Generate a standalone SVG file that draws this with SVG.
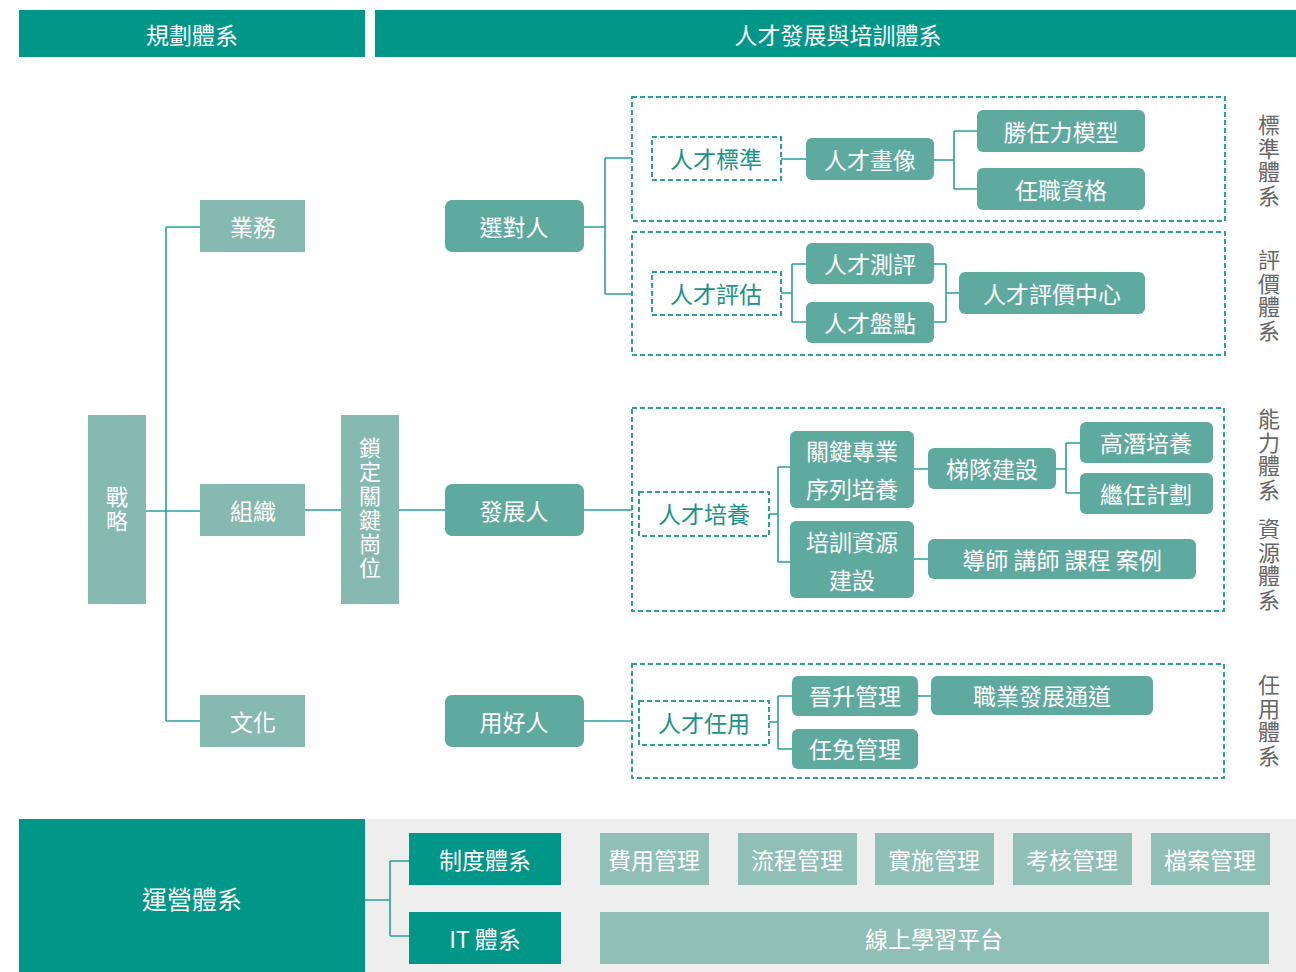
<svg xmlns="http://www.w3.org/2000/svg" width="1296" height="972" viewBox="0 0 1296 972">
<style>
text{font-family:"Noto Sans CJK TC","Noto Sans CJK SC",sans-serif;font-size:23px;text-anchor:middle;dominant-baseline:central}
.hdr{fill:#009688}
.ht{fill:#fff;font-size:23px}
.big{font-size:25px}
.lt{fill:#86B9B0}
.nd{fill:#5FAA9F}
.mg{fill:#8FBFB5}
.w{fill:#fff}
.dash{fill:none;stroke:#2AA198;stroke-width:2;stroke-dasharray:5 3}
.dt{fill:#1A9485}
.vt{writing-mode:vertical-rl;font-size:22px;letter-spacing:2px}
.side{fill:#666;writing-mode:vertical-rl;font-size:22px;letter-spacing:1.5px}
.conn path{fill:none;stroke:#2AA198;stroke-width:1.6}
</style>
<rect x="365" y="819" width="931" height="153" fill="#EEEEEE"/>
<g id="hdr1"><rect class="hdr" x="19" y="10" width="346" height="47"/><text class="ht" x="192" y="34">規劃體系</text></g>
<g id="hdr2"><rect class="hdr" x="375" y="10" width="921" height="47"/><text class="ht" x="838" y="34">人才發展與培訓體系</text></g>

<g class="conn" id="connectors">
<path d="M146 511H200M166 227V721M166 227H200M166 721H200"/>
<path d="M305 510H341M399 510H445"/>
<path d="M584 227H605M605 158V294M605 158H632M605 294H632"/>
<path d="M584 510H632M584 721H632"/>
<path d="M781 159H806M934 160H954M954 131V189M954 131H977M954 189H977"/>
<path d="M781 293H792M792 264V322M792 264H806M792 322H806M934 264H946M934 322H946M946 264V322M946 293H959"/>
<path d="M769 514H778M778 467V562M778 467H790M778 562H790M914 469H928M1056 469H1066M1066 443V493M1066 443H1080M1066 493H1080M914 559H928"/>
<path d="M769 722H778M778 696V749M778 696H792M778 749H792M918 696H931"/>
<path d="M365 900H390M390 861V936M390 861H409M390 936H409"/>
</g>

<g id="zhanlue"><rect class="lt" x="88" y="415" width="58" height="189"/><text class="w vt" x="117" y="510">戰略</text></g>
<g id="yewu"><rect class="lt" x="200" y="200" width="105" height="52"/><text class="w" x="253" y="226">業務</text></g>
<g id="zuzhi"><rect class="lt" x="200" y="484" width="105" height="52"/><text class="w" x="253" y="510">組織</text></g>
<g id="wenhua"><rect class="lt" x="200" y="695" width="105" height="52"/><text class="w" x="253" y="721">文化</text></g>
<g id="suoding"><rect class="lt" x="341" y="415" width="58" height="189"/><text class="w vt" x="370" y="509">鎖定關鍵崗位</text></g>

<g id="xuandui"><rect class="nd" x="445" y="200" width="139" height="52" rx="7"/><text class="w" x="514" y="226">選對人</text></g>
<g id="fazhan"><rect class="nd" x="445" y="484" width="139" height="52" rx="7"/><text class="w" x="514" y="510">發展人</text></g>
<g id="yonghao"><rect class="nd" x="445" y="695" width="139" height="52" rx="7"/><text class="w" x="514" y="721">用好人</text></g>

<g id="box1"><rect class="dash" x="632" y="97" width="593" height="124"/></g>
<g id="box2"><rect class="dash" x="632" y="232" width="593" height="123"/></g>
<g id="box3"><rect class="dash" x="632" y="408" width="592" height="203"/></g>
<g id="box4"><rect class="dash" x="632" y="664" width="592" height="114"/></g>

<g id="biaozhun"><rect class="dash" x="652" y="137" width="129" height="43"/><text class="dt" x="716" y="158">人才標準</text></g>
<g id="huaxiang"><rect class="nd" x="806" y="138" width="128" height="42" rx="6"/><text class="w" x="870" y="159">人才畫像</text></g>
<g id="shengren"><rect class="nd" x="977" y="110" width="168" height="42" rx="6"/><text class="w" x="1061" y="131">勝任力模型</text></g>
<g id="renzhi"><rect class="nd" x="977" y="168" width="168" height="42" rx="6"/><text class="w" x="1061" y="189">任職資格</text></g>

<g id="pinggu"><rect class="dash" x="652" y="272" width="129" height="43"/><text class="dt" x="716" y="293">人才評估</text></g>
<g id="cepin"><rect class="nd" x="806" y="243" width="128" height="41" rx="6"/><text class="w" x="870" y="263">人才測評</text></g>
<g id="pandian"><rect class="nd" x="806" y="302" width="128" height="41" rx="6"/><text class="w" x="870" y="322">人才盤點</text></g>
<g id="zhongxin"><rect class="nd" x="959" y="272" width="186" height="42" rx="6"/><text class="w" x="1052" y="293">人才評價中心</text></g>

<g id="peiyang"><rect class="dash" x="639" y="492" width="130" height="44"/><text class="dt" x="704" y="513">人才培養</text></g>
<g id="guanjian"><rect class="nd" x="790" y="431" width="124" height="77" rx="6"/><text class="w"><tspan x="852" y="450">關鍵專業</tspan><tspan x="852" y="488">序列培養</tspan></text></g>
<g id="ziyuan"><rect class="nd" x="790" y="521" width="124" height="77" rx="6"/><text class="w"><tspan x="852" y="541">培訓資源</tspan><tspan x="852" y="579">建設</tspan></text></g>
<g id="tidui"><rect class="nd" x="928" y="448" width="128" height="41" rx="6"/><text class="w" x="992" y="468">梯隊建設</text></g>
<g id="gaoqian"><rect class="nd" x="1080" y="422" width="133" height="41" rx="6"/><text class="w" x="1146" y="442">高潛培養</text></g>
<g id="jiren"><rect class="nd" x="1080" y="473" width="133" height="41" rx="6"/><text class="w" x="1146" y="493">繼任計劃</text></g>
<g id="daoshi"><rect class="nd" x="928" y="539" width="268" height="40" rx="6"/><text class="w" x="1062" y="559">導師 講師 課程 案例</text></g>

<g id="renyong"><rect class="dash" x="639" y="701" width="130" height="44"/><text class="dt" x="704" y="722">人才任用</text></g>
<g id="jinsheng"><rect class="nd" x="792" y="676" width="126" height="40" rx="6"/><text class="w" x="855" y="695">晉升管理</text></g>
<g id="renmian"><rect class="nd" x="792" y="729" width="126" height="40" rx="6"/><text class="w" x="855" y="748">任免管理</text></g>
<g id="zhiye"><rect class="nd" x="931" y="676" width="222" height="39" rx="6"/><text class="w" x="1042" y="695">職業發展通道</text></g>

<g id="side1"><text class="side" x="1269" y="161">標準體系</text></g>
<g id="side2"><text class="side" x="1269" y="296">評價體系</text></g>
<g id="side3"><text class="side" x="1269" y="455">能力體系</text></g>
<g id="side4"><text class="side" x="1269" y="565">資源體系</text></g>
<g id="side5"><text class="side" x="1269" y="721">任用體系</text></g>

<g id="yunying"><rect class="hdr" x="19" y="819" width="346" height="153"/><text class="ht big" x="192" y="898">運營體系</text></g>
<g id="zhidu"><rect class="hdr" x="409" y="833" width="152" height="52"/><text class="w" x="485" y="859">制度體系</text></g>
<g id="it"><rect class="hdr" x="409" y="912" width="152" height="52"/><text class="w" x="485" y="938">IT 體系</text></g>
<g id="m1"><rect class="mg" x="600" y="833" width="109" height="52"/><text class="w" x="654" y="859">費用管理</text></g>
<g id="m2"><rect class="mg" x="738" y="833" width="119" height="52"/><text class="w" x="797" y="859">流程管理</text></g>
<g id="m3"><rect class="mg" x="875" y="833" width="119" height="52"/><text class="w" x="934" y="859">實施管理</text></g>
<g id="m4"><rect class="mg" x="1013" y="833" width="119" height="52"/><text class="w" x="1072" y="859">考核管理</text></g>
<g id="m5"><rect class="mg" x="1151" y="833" width="119" height="52"/><text class="w" x="1210" y="859">檔案管理</text></g>
<g id="online"><rect class="mg" x="600" y="912" width="669" height="52"/><text class="w" x="934" y="938">線上學習平台</text></g>
</svg>
